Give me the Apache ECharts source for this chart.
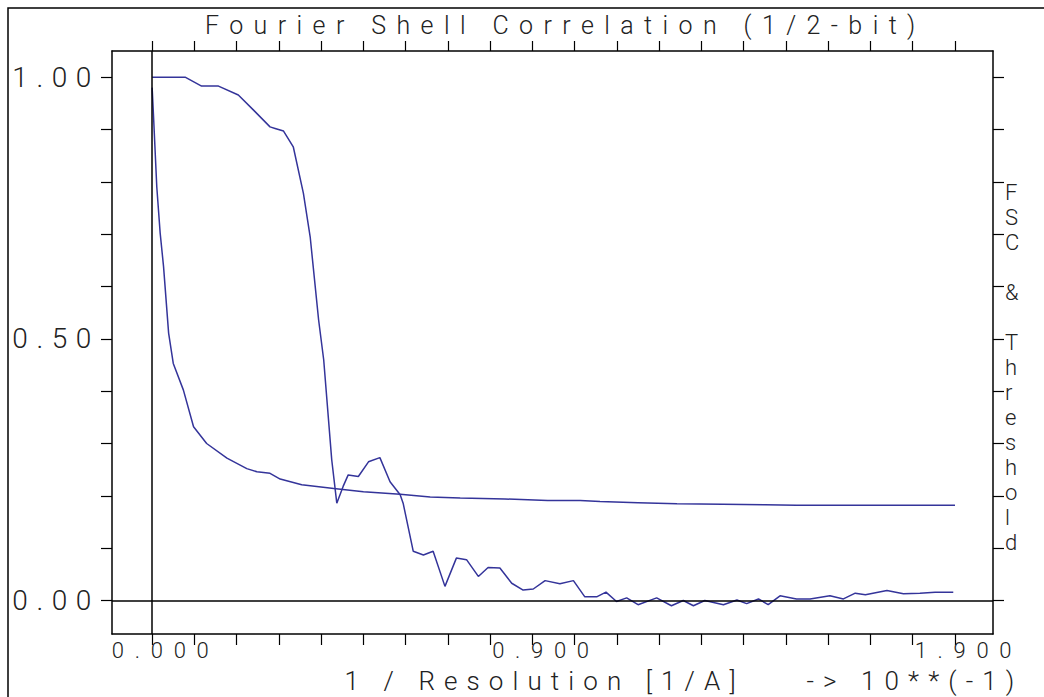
<!DOCTYPE html>
<html><head><meta charset="utf-8">
<script src="https://cdn.jsdelivr.net/npm/echarts@6/dist/echarts.min.js"></script>
<style>
html,body{margin:0;padding:0;background:#fff;}
#chart{width:1044px;height:697px;}
#chart text{white-space:pre;}
#chart text[style*="Lato"]{letter-spacing:10.4px;}
#chart text[style*="Inter"]{letter-spacing:8.6px;}
#chart text[style*="Noto Sans"]{letter-spacing:10.7px;}
#chart text[style*="Open Sans"]{letter-spacing:9.1px;}
</style></head>
<body><div id="chart"></div>
<script>
const titleText = 'Fourier Shell Correlation (1/2-bit)';
const xAxisName = '1 / Resolution [1/A]    -> 10**(-1)';
const yAxisRightName = 'FSC & Threshold';
const xTickValues = [0, 0.1, 0.2, 0.3, 0.4, 0.5, 0.6, 0.7, 0.8, 0.9, 1.0, 1.1, 1.2, 1.3, 1.4, 1.5, 1.6, 1.7, 1.8, 1.9];
const xLabelValues = [0, 0.9, 1.9];
const yTickValues = [0, 0.1, 0.2, 0.3, 0.4, 0.5, 0.6, 0.7, 0.8, 0.9, 1.0];
const yLabelValues = [0, 0.5, 1.0];

const fscX = [0, 0.078, 0.117, 0.157, 0.204, 0.240, 0.279, 0.291, 0.311, 0.334, 0.358, 0.374, 0.394, 0.406, 0.425, 0.437, 0.452, 0.464, 0.488, 0.512, 0.539, 0.563, 0.587, 0.594, 0.618, 0.642, 0.665, 0.693, 0.720, 0.744, 0.772, 0.795, 0.823, 0.851, 0.878, 0.902, 0.930, 0.965, 0.997, 1.024, 1.052, 1.074, 1.099, 1.123, 1.150, 1.194, 1.229, 1.257, 1.281, 1.308, 1.352, 1.384, 1.407, 1.435, 1.458, 1.486, 1.525, 1.557, 1.604, 1.636, 1.664, 1.688, 1.739, 1.778, 1.817, 1.853, 1.896];
const fscY = [1.000, 1.000, 0.983, 0.983, 0.966, 0.937, 0.905, 0.902, 0.897, 0.867, 0.778, 0.695, 0.536, 0.460, 0.269, 0.186, 0.218, 0.240, 0.237, 0.265, 0.273, 0.227, 0.202, 0.186, 0.094, 0.087, 0.094, 0.027, 0.081, 0.078, 0.046, 0.063, 0.062, 0.033, 0.020, 0.022, 0.038, 0.032, 0.038, 0.007, 0.007, 0.016, -0.002, 0.005, -0.008, 0.005, -0.010, 0.000, -0.010, 0.000, -0.008, 0.001, -0.006, 0.003, -0.008, 0.009, 0.003, 0.003, 0.009, 0.003, 0.014, 0.011, 0.019, 0.013, 0.014, 0.016, 0.016];

const thrX = [0, 0.003, 0.011, 0.019, 0.027, 0.039, 0.050, 0.074, 0.098, 0.129, 0.177, 0.224, 0.248, 0.279, 0.303, 0.354, 0.430, 0.500, 0.587, 0.658, 0.729, 0.835, 0.936, 1.013, 1.060, 1.150, 1.242, 1.350, 1.450, 1.525, 1.650, 1.780, 1.900];
const thrY = [0.980, 0.930, 0.790, 0.702, 0.638, 0.511, 0.453, 0.402, 0.332, 0.300, 0.272, 0.252, 0.246, 0.243, 0.232, 0.221, 0.214, 0.208, 0.203, 0.198, 0.196, 0.194, 0.191, 0.191, 0.189, 0.187, 0.185, 0.184, 0.183, 0.182, 0.182, 0.182, 0.182];

const fscData = fscX.map((x, i) => [x, fscY[i]]);
const thrData = thrX.map((x, i) => [x, thrY[i]]);

const INK = '#222';
const LINE = '#34349a';
const axisLine = { show: true, onZero: false, lineStyle: { color: '#000', width: 1.5 } };

const chart = echarts.init(document.getElementById('chart'), null, { renderer: 'svg' });

chart.setOption({
  animation: false,
  backgroundColor: '#fff',
  title: {
    text: titleText, left: 205, top: 13, padding: 0,
    textStyle: { fontFamily: 'Roboto, Lato', fontWeight: 300, fontSize: 25, color: INK }
  },
  grid: { left: 112, right: 51, top: 51, bottom: 63, containLabel: false, outerBoundsMode: 'none' },
  xAxis: [{
    type: 'value', position: 'bottom', min: -0.095, max: 1.99,
    axisLine: axisLine,
    axisTick: { show: true, inside: false, length: 11, customValues: xTickValues, lineStyle: { color: '#000', width: 1.2 } },
    axisLabel: { customValues: xLabelValues, formatter: v => v.toFixed(3), margin: 7, lineHeight: 18, padding: [0, 0, 0, 27],
      fontFamily: 'Roboto, Noto Sans', fontWeight: 300, fontSize: 22, color: INK },
    splitLine: { show: false },
    name: xAxisName, nameLocation: 'middle', nameGap: 35, nameMoveOverlap: false,
    nameTextStyle: { fontFamily: 'Roboto, Open Sans', fontWeight: 300, fontSize: 26, lineHeight: 24, color: INK, padding: [0, 0, 0, 263] }
  }, {
    type: 'value', position: 'top', min: -0.095, max: 1.99,
    axisLine: axisLine,
    axisTick: { show: true, inside: false, length: 10, customValues: xTickValues, lineStyle: { color: '#000', width: 1.2 } },
    axisLabel: { show: false }, splitLine: { show: false }
  }],
  yAxis: [{
    type: 'value', position: 'left', min: -0.064, max: 1.05,
    axisLine: axisLine,
    axisTick: { show: true, inside: false, length: 11, customValues: yTickValues, lineStyle: { color: '#000', width: 1.2 } },
    axisLabel: { customValues: yLabelValues, formatter: v => v.toFixed(2), margin: 12, padding: [3, 0, 0, 0],
      fontFamily: 'Roboto, Inter', fontWeight: 300, fontSize: 28, color: INK },
    splitLine: { show: false }
  }, {
    type: 'value', position: 'right', min: -0.064, max: 1.05,
    axisLine: axisLine,
    axisTick: { show: true, inside: false, length: 11, customValues: yTickValues, lineStyle: { color: '#000', width: 1.2 } },
    axisLabel: { show: false }, splitLine: { show: false }
  }],
  graphic: [{
    type: 'rect', silent: true, z: -1,
    shape: { x: 8, y: 8, width: 1200, height: 900 },
    style: { fill: 'none', stroke: '#000', lineWidth: 1.5 }
  }, {
    type: 'text', silent: true, x: 1005, y: 180,
    style: {
      text: yAxisRightName.split('').join('\n'),
      fontFamily: 'Roboto', fontWeight: 300, fontSize: 22, lineHeight: 25,
      fill: INK, align: 'left', verticalAlign: 'top'
    }
  }],
  series: [{
    name: 'FSC', type: 'line', data: fscData, showSymbol: false, symbol: 'none',
    lineStyle: { color: LINE, width: 1.5 }, z: 3,
    markLine: {
      silent: true, symbol: 'none', label: { show: false },
      lineStyle: { color: '#000', width: 1.5, type: 'solid' },
      data: [{ xAxis: 0 }, { yAxis: 0 }]
    }
  }, {
    name: 'Threshold', type: 'line', data: thrData, showSymbol: false, symbol: 'none',
    lineStyle: { color: LINE, width: 1.5 }, z: 3
  }]
});
</script>
</body></html>
